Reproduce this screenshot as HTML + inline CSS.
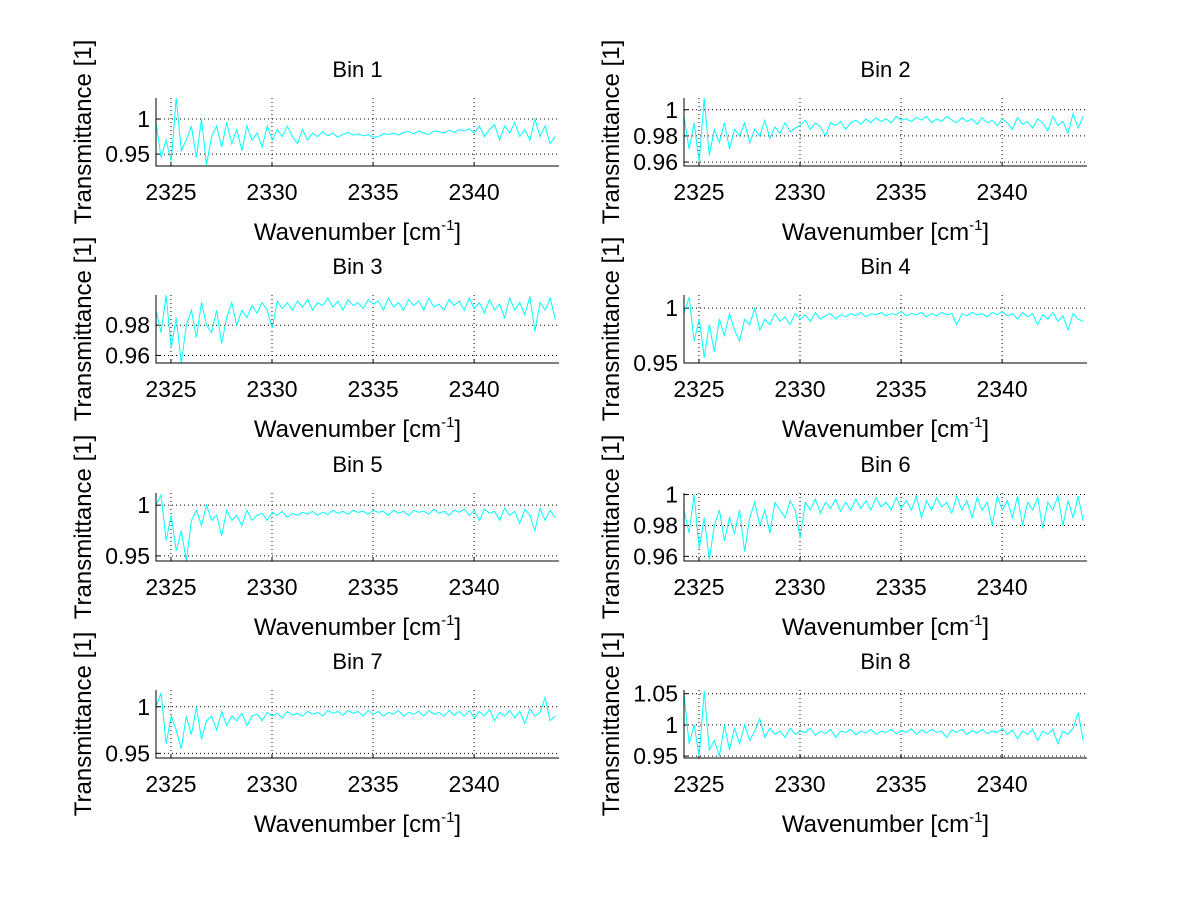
<!DOCTYPE html>
<html><head><meta charset="utf-8"><style>
body{margin:0;background:#fff;}
svg{display:block;font-family:"Liberation Sans",sans-serif;}
</style></head><body>
<svg id="fig" width="1200" height="901" viewBox="0 0 1200 901"></svg>
<script>
const xStart = 2324.26;
const xStep = 0.25;
const xTicks = [2325, 2330, 2335, 2340];
const binTitles = ["Bin 1","Bin 2","Bin 3","Bin 4","Bin 5","Bin 6","Bin 7","Bin 8"];
const yLims = [[0.933,1.03],[0.957,1.009],[0.955,1.0],[0.95,1.012],[0.945,1.012],[0.957,1.001],[0.945,1.018],[0.947,1.056]];
const yTicks = [[0.95,1],[0.96,0.98,1],[0.96,0.98],[0.95,1],[0.95,1],[0.96,0.98,1],[0.95,1],[0.95,1,1.05]];
const yTickLabels = [["0.95","1"],["0.96","0.98","1"],["0.96","0.98"],["0.95","1"],["0.95","1"],["0.96","0.98","1"],["0.95","1"],["0.95","1","1.05"]];
const bin1 = [0.995,0.945,0.97,0.94,1.03,0.955,0.97,0.99,0.945,1.0,0.935,0.975,0.99,0.96,0.995,0.965,0.985,0.955,0.99,0.97,0.98,0.96,0.99,0.97,0.985,0.975,0.99,0.975,0.965,0.985,0.97,0.98,0.975,0.982,0.976,0.98,0.974,0.978,0.981,0.977,0.979,0.976,0.978,0.974,0.975,0.979,0.978,0.98,0.977,0.981,0.982,0.979,0.983,0.98,0.978,0.983,0.982,0.98,0.984,0.981,0.985,0.983,0.986,0.98,0.99,0.975,0.985,0.992,0.97,0.99,0.98,0.995,0.975,0.985,0.97,1.0,0.975,0.99,0.965,0.975];
const bin2 = [0.995,0.97,0.99,0.96,1.009,0.965,0.985,0.975,0.99,0.97,0.985,0.98,0.99,0.975,0.985,0.98,0.992,0.978,0.987,0.982,0.99,0.983,0.986,0.988,0.992,0.985,0.99,0.987,0.98,0.99,0.988,0.991,0.985,0.99,0.992,0.989,0.993,0.99,0.994,0.991,0.993,0.99,0.995,0.992,0.993,0.991,0.994,0.992,0.995,0.99,0.993,0.991,0.995,0.992,0.99,0.994,0.991,0.993,0.989,0.994,0.99,0.992,0.988,0.993,0.99,0.985,0.994,0.989,0.991,0.986,0.993,0.99,0.984,0.995,0.988,0.991,0.982,0.997,0.986,0.995];
const bin3 = [0.99,0.975,1.0,0.965,0.985,0.955,0.98,0.99,0.972,0.995,0.98,0.975,0.99,0.968,0.985,0.995,0.98,0.99,0.985,0.993,0.988,0.995,0.99,0.978,0.996,0.991,0.995,0.99,0.996,0.992,0.997,0.99,0.995,0.993,0.998,0.992,0.996,0.99,0.997,0.993,0.995,0.991,0.997,0.994,0.996,0.99,0.998,0.992,0.995,0.99,0.997,0.993,0.996,0.99,0.998,0.992,0.994,0.99,0.997,0.993,0.996,0.99,0.998,0.991,0.995,0.988,0.997,0.99,0.994,0.985,0.998,0.99,0.995,0.987,0.999,0.976,0.995,0.99,0.998,0.984];
const bin4 = [0.995,1.01,0.97,0.99,0.955,0.985,0.96,0.99,0.975,0.995,0.98,0.97,0.99,0.985,1.0,0.98,0.99,0.985,0.995,0.988,0.992,0.985,0.995,0.99,0.994,0.988,0.996,0.99,0.993,0.995,0.99,0.994,0.992,0.995,0.993,0.996,0.992,0.995,0.994,0.996,0.993,0.995,0.994,0.997,0.993,0.995,0.994,0.996,0.992,0.995,0.993,0.996,0.994,0.995,0.985,0.995,0.993,0.996,0.994,0.995,0.992,0.996,0.994,0.997,0.993,0.995,0.99,0.996,0.992,0.995,0.985,0.994,0.99,0.996,0.988,0.993,0.98,0.995,0.99,0.988];
const bin5 = [1.0,1.01,0.965,0.99,0.955,0.975,0.945,0.985,0.995,0.98,1.0,0.985,0.99,0.97,0.995,0.985,0.99,0.98,0.995,0.985,0.99,0.992,0.985,0.993,0.99,0.994,0.988,0.992,0.99,0.993,0.991,0.994,0.99,0.993,0.991,0.995,0.992,0.994,0.991,0.995,0.993,0.994,0.991,0.995,0.993,0.994,0.99,0.995,0.992,0.994,0.99,0.995,0.993,0.994,0.991,0.996,0.992,0.994,0.99,0.995,0.993,0.996,0.99,0.995,0.985,0.996,0.992,0.994,0.985,0.997,0.99,0.994,0.982,0.996,0.99,0.975,0.997,0.985,0.995,0.988];
const bin6 = [0.99,0.975,1.0,0.965,0.985,0.958,0.98,0.99,0.97,0.985,0.975,0.99,0.963,0.985,0.995,0.98,0.99,0.975,0.995,0.99,0.985,0.996,0.99,0.972,0.995,0.99,0.997,0.988,0.995,0.991,0.997,0.989,0.995,0.99,0.997,0.991,0.996,0.99,0.998,0.992,0.995,0.99,0.998,0.991,0.996,0.99,0.999,0.985,0.996,0.99,0.998,0.992,0.995,0.988,0.999,0.99,0.996,0.985,0.998,0.99,0.995,0.98,0.999,0.99,0.996,0.985,0.999,0.98,0.995,0.99,0.998,0.978,0.995,0.99,0.999,0.98,0.996,0.985,0.999,0.983];
const bin7 = [1.0,1.015,0.96,0.99,0.975,0.955,0.99,0.97,1.0,0.965,0.985,0.99,0.975,0.995,0.98,0.99,0.985,0.993,0.98,0.99,0.992,0.985,0.994,0.99,0.993,0.988,0.995,0.991,0.993,0.99,0.995,0.992,0.994,0.99,0.996,0.993,0.995,0.991,0.996,0.993,0.995,0.99,0.996,0.992,0.995,0.99,0.994,0.992,0.996,0.99,0.994,0.992,0.995,0.99,0.996,0.992,0.994,0.99,0.996,0.991,0.995,0.99,0.996,0.988,0.995,0.99,0.997,0.985,0.994,0.99,0.996,0.988,0.995,0.982,0.998,0.99,0.994,1.01,0.985,0.99];
const bin8 = [1.05,0.97,1.0,0.95,1.055,0.96,0.975,0.95,1.0,0.96,0.995,0.97,1.0,0.975,0.99,1.01,0.98,0.995,0.985,0.99,0.98,0.995,0.985,0.99,0.988,0.995,0.983,0.99,0.986,0.993,0.98,0.99,0.988,0.993,0.984,0.99,0.987,0.993,0.985,0.99,0.988,0.993,0.986,0.991,0.988,0.994,0.985,0.992,0.987,0.993,0.988,0.99,0.98,0.992,0.988,0.993,0.985,0.991,0.987,0.993,0.986,0.99,0.988,0.994,0.985,0.992,0.978,0.99,0.985,0.993,0.975,0.99,0.985,0.993,0.97,0.99,0.985,0.995,1.02,0.975];
const series = [bin1,bin2,bin3,bin4,bin5,bin6,bin7,bin8];

const NS = "http://www.w3.org/2000/svg";
const svg = document.getElementById("fig");
function el(tag, attrs, parent){ const e=document.createElementNS(NS,tag); for(const k in attrs) e.setAttribute(k,attrs[k]); (parent||svg).appendChild(e); return e; }
const colL = [156, 684], colW = 403;
const rowT = [98, 295, 493, 690], rowH = 68;
const xMin = 2324.26, xMax = 2344.2;

series.forEach((data, b) => {
  const col = b % 2, row = Math.floor(b / 2);
  const L = colL[col], T = rowT[row], R = L + colW, B = T + rowH;
  const [y0, y1] = yLims[b];
  const sx = v => L + (v - xMin) / (xMax - xMin) * colW;
  const sy = v => B - (v - y0) / (y1 - y0) * rowH;
  const g = el("g", {});
  
  
  xTicks.forEach(t => {
    const x = sx(t);
    const gl = el("line", {x1:x, x2:x, y1:T, y2:B, stroke:"#000", "stroke-width":1, "stroke-dasharray":"1,3"}, g);
    
    
    el("line", {x1:x, x2:x, y1:B, y2:B-4, stroke:"#000"}, g);
    const tl = el("text", {x:x, y:B+34, "font-size":23, "text-anchor":"middle"}, g);
    tl.textContent = t;
    
    
  });
  yTicks[b].forEach((t, i) => {
    const y = sy(t);
    const gl = el("line", {x1:L, x2:R, y1:y, y2:y, stroke:"#000", "stroke-width":1, "stroke-dasharray":"1,3"}, g);
    
    
    el("line", {x1:L, x2:L+4, y1:y, y2:y, stroke:"#000"}, g);
    const tl = el("text", {x:L-6, y:y+8, "font-size":23, "text-anchor":"end"}, g);
    tl.textContent = yTickLabels[b][i];
    
    
  });
  const pts = data.map((v, i) => {
    const yy = Math.max(T, Math.min(B, sy(v)));
    return sx(xStart + i * xStep).toFixed(1) + "," + yy.toFixed(1);
  }).join(" ");
  const pl = el("polyline", {points:pts, fill:"none", stroke:"#00ffff", "stroke-width":1}, g);
  
  
  const ax = el("path", {d:`M${L},${T} L${L},${B} L${R},${B}`, fill:"none", stroke:"#000", "stroke-width":1}, g);
  
  
  const tt = el("text", {x:L+colW/2, y:T-21, "font-size":22, "text-anchor":"middle"}, g);
  tt.textContent = binTitles[b];
  
  
  const xl = el("text", {x:L+colW/2, y:B+74, "font-size":24, "text-anchor":"middle"}, g);
  xl.textContent = "Wavenumber [cm";
  const sup = el("tspan", {"font-size":15, dy:-10}, xl); sup.textContent = "-1";
  const cl = el("tspan", {"font-size":24, dy:10}, xl); cl.textContent = "]";
  
  
  const cx = col === 0 ? 91 : 619, cy = (T + B) / 2;
  const yl = el("text", {x:cx, y:cy, "font-size":24, "text-anchor":"middle", transform:`rotate(-90 ${cx} ${cy})`}, g);
  yl.textContent = "Transmittance [1]";
  
  
});
</script>
</body></html>
